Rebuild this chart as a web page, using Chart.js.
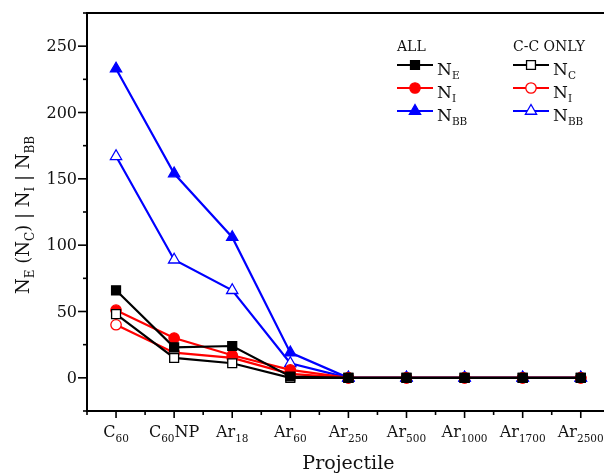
<!DOCTYPE html>
<html>
<head>
<meta charset="utf-8">
<script src="https://cdn.jsdelivr.net/npm/chart.js@4/dist/chart.umd.min.js"></script>
<style>
  html, body { margin: 0; padding: 0; background: #fff; }
  #wrap { width: 604px; height: 474px; }
</style>
</head>
<body>
<div id="wrap"><canvas id="chart" width="604" height="474"></canvas></div>
<script>
const CATEGORIES = ['C_{60}', 'C_{60}NP', 'Ar_{18}', 'Ar_{60}', 'Ar_{250}', 'Ar_{500}', 'Ar_{1000}', 'Ar_{1700}', 'Ar_{2500}'];

// ALL
const ALL_NE = [66, 23, 24, 1, 0, 0, 0, 0, 0];
const ALL_NI = [51, 30, 17, 6, 0, 0, 0, 0, 0];
const ALL_NBB = [233, 154, 106, 19, 0, 0, 0, 0, 0];
// C-C ONLY
const CC_NC = [48, 15, 11, 0, 0, 0, 0, 0, 0];
const CC_NI = [40, 19, 15, 3, 0, 0, 0, 0, 0];
const CC_NBB = [167, 89, 66, 11, 0, 0, 0, 0, 0];

const Y_MIN = -25;
const Y_MAX = 275;
const Y_LABELS = [0, 50, 100, 150, 200, 250];

const FONT = '"DejaVu Serif", "Liberation Serif", serif';

const toPoints = arr => arr.map((v, i) => ({ x: i, y: v }));

function series(label, data, color, style, filled, radius) {
  return {
    label,
    data: toPoints(data),
    borderColor: color,
    backgroundColor: filled ? color : '#ffffff',
    pointBackgroundColor: filled ? color : '#ffffff',
    pointBorderColor: color,
    pointBorderWidth: 1.3,
    pointStyle: style,
    pointRadius: radius,
    borderWidth: 2.2,
    tension: 0,
  };
}

// Legend layout: [header, x of line start, rows]
const LEGEND = [
  { header: 'ALL', x: 397, rows: [
    { name: 'N_{E}', color: '#000000', style: 'rect', filled: true, r: 6.3 },
    { name: 'N_{I}', color: '#ff0000', style: 'circle', filled: true, r: 5.2 },
    { name: 'N_{BB}', color: '#0000ff', style: 'triangle', filled: true, r: 6.5 },
  ] },
  { header: 'C-C ONLY', x: 513, rows: [
    { name: 'N_{C}', color: '#000000', style: 'rect', filled: false, r: 6.3 },
    { name: 'N_{I}', color: '#ff0000', style: 'circle', filled: false, r: 5.2 },
    { name: 'N_{BB}', color: '#0000ff', style: 'triangle', filled: false, r: 6.5 },
  ] },
];

function parseRich(s) {
  const parts = [];
  const re = /_\{([^}]*)\}/g;
  let last = 0, m;
  while ((m = re.exec(s))) {
    if (m.index > last) parts.push({ t: s.slice(last, m.index), sub: false });
    parts.push({ t: m[1], sub: true });
    last = re.lastIndex;
  }
  if (last < s.length) parts.push({ t: s.slice(last), sub: false });
  return parts;
}

function drawRich(ctx, s, x, y, size, subSize, drop, align) {
  const parts = parseRich(s);
  let total = 0;
  parts.forEach(p => {
    ctx.font = `${p.sub ? subSize : size}px ${FONT}`;
    p.w = ctx.measureText(p.t).width;
    total += p.w;
  });
  let cx = align === 'center' ? x - total / 2 : align === 'right' ? x - total : x;
  ctx.textAlign = 'left';
  ctx.textBaseline = 'alphabetic';
  parts.forEach(p => {
    ctx.font = `${p.sub ? subSize : size}px ${FONT}`;
    ctx.fillText(p.t, cx, p.sub ? y + drop : y);
    cx += p.w;
  });
}

const frame = {
  id: 'frame',
  beforeDatasetsDraw(chart) {
    const { ctx, chartArea: a, scales: { x, y } } = chart;
    ctx.save();
    ctx.strokeStyle = '#000';
    ctx.fillStyle = '#111';
    ctx.lineWidth = 2;
    ctx.beginPath();
    ctx.moveTo(chart.width, a.top); ctx.lineTo(a.left, a.top);
    ctx.lineTo(a.left, a.bottom + 1); ctx.moveTo(a.left - 1, a.bottom);
    ctx.lineTo(chart.width, a.bottom);
    ctx.stroke();

    // y ticks
    ctx.lineWidth = 1.6;
    for (let v = Y_MIN; v <= Y_MAX; v += 25) {
      const py = y.getPixelForValue(v);
      const len = v % 50 === 0 ? 9 : 4;
      ctx.beginPath(); ctx.moveTo(a.left - len, py); ctx.lineTo(a.left, py); ctx.stroke();
    }
    ctx.font = `16px ${FONT}`;
    ctx.textAlign = 'right';
    ctx.textBaseline = 'middle';
    Y_LABELS.forEach(v => ctx.fillText(String(v), a.left - 10, y.getPixelForValue(v) + 1));

    // x ticks
    for (let v = -0.5; v <= x.max; v += 0.5) {
      const px = x.getPixelForValue(v);
      const len = Number.isInteger(v) ? 7 : 4;
      ctx.beginPath(); ctx.moveTo(px, a.bottom); ctx.lineTo(px, a.bottom + len); ctx.stroke();
    }
    CATEGORIES.forEach((c, i) => drawRich(ctx, c, x.getPixelForValue(i), a.bottom + 26, 16, 10.5, 5, 'center'));

    // axis titles
    ctx.font = `19px ${FONT}`;
    ctx.textAlign = 'center';
    ctx.textBaseline = 'alphabetic';
    ctx.fillText('Projectile', x.getPixelForValue(4), 469);

    ctx.translate(29, (a.top + a.bottom) / 2 + 3);
    ctx.rotate(-Math.PI / 2);
    drawRich(ctx, 'N_{E} (N_{C}) | N_{I} | N_{BB}', 0, 0, 18, 12, 5, 'center');
    ctx.restore();
  },
  afterDraw(chart) {
    const { ctx } = chart;
    ctx.save();
    ctx.fillStyle = '#111';
    LEGEND.forEach(col => {
      ctx.font = `14px ${FONT}`;
      ctx.textAlign = 'left';
      ctx.textBaseline = 'alphabetic';
      ctx.fillText(col.header, col.x, 51);
      col.rows.forEach((r, i) => {
        const ly = 65 + i * 23;
        ctx.strokeStyle = r.color;
        ctx.lineWidth = 2.2;
        ctx.beginPath(); ctx.moveTo(col.x, ly); ctx.lineTo(col.x + 36, ly); ctx.stroke();
        ctx.fillStyle = r.filled ? r.color : '#ffffff';
        ctx.lineWidth = 1.3;
        Chart.helpers.drawPoint(ctx, { pointStyle: r.style, radius: r.r, rotation: 0, borderWidth: 1.3 }, col.x + 18, ly);
        ctx.fillStyle = '#111';
        drawRich(ctx, r.name, col.x + 40, ly + 10, 17, 10.5, 4, 'left');
      });
    });
    ctx.restore();
  },
};

new Chart(document.getElementById('chart'), {
  type: 'line',
  data: {
    datasets: [
      series('N_E', ALL_NE, '#000000', 'rect', true, 6.3),
      series('N_C', CC_NC, '#000000', 'rect', false, 6.3),
      series('N_I', ALL_NI, '#ff0000', 'circle', true, 5.2),
      series('N_I (C-C)', CC_NI, '#ff0000', 'circle', false, 5.2),
      series('N_BB', ALL_NBB, '#0000ff', 'triangle', true, 6.5),
      series('N_BB (C-C)', CC_NBB, '#0000ff', 'triangle', false, 6.5),
    ],
  },
  options: {
    responsive: false,
    animation: false,
    layout: { autoPadding: false, padding: { top: 13, left: 0, right: 0, bottom: 0 } },
    plugins: { legend: { display: false }, tooltip: { enabled: false } },
    scales: {
      x: {
        type: 'linear',
        min: -0.5,
        max: 8.4,
        grid: { display: false },
        border: { display: false },
        ticks: { display: false },
        afterFit: s => { s.height = 63; s.paddingLeft = 0; s.paddingRight = 0; },
      },
      y: {
        min: Y_MIN,
        max: Y_MAX,
        grid: { display: false },
        border: { display: false },
        ticks: { display: false },
        afterFit: s => { s.width = 87; s.paddingTop = 0; s.paddingBottom = 0; },
      },
    },
  },
  plugins: [frame],
});
</script>
</body>
</html>
